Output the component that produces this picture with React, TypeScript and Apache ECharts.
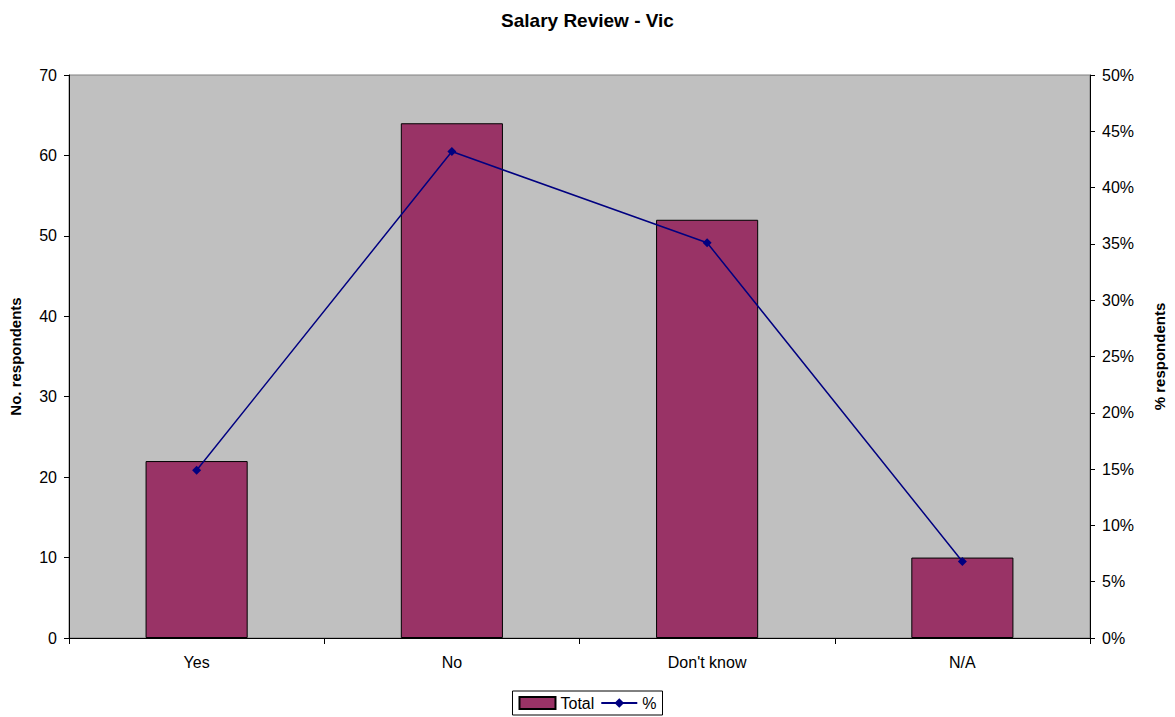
import React, { useEffect, useRef } from "react";
import * as echarts from "echarts";

const categories = ["Yes", "No", "Don't know", "N/A"];
const totals = [22, 64, 52, 10];
const percents = [14.9, 43.2, 35.1, 6.8];
const leftTicks = { min: 0, max: 70, interval: 10 };
const rightTicks = { min: 0, max: 50, interval: 5 };

const FONT = "'Liberation Sans', Arial, sans-serif";

export default function App() {
  const ref = useRef<HTMLDivElement>(null);
  useEffect(() => {
    if (!ref.current) return;
    const chart = echarts.init(ref.current, undefined, { renderer: "svg", width: 1175, height: 717 });
    const axisLine = { show: true, lineStyle: { color: "#000", width: 1 } };
    const nameStyle = { fontFamily: FONT, fontSize: 15, fontWeight: "bold", color: "#000" };
    const labelStyle = { fontFamily: FONT, fontSize: 16, color: "#000" };
    chart.setOption({
      animation: false,
      backgroundColor: "#fff",
      textStyle: { fontFamily: FONT },
      title: {
        text: "Salary Review - Vic",
        left: "center",
        top: 6,
        textStyle: { fontFamily: FONT, fontSize: 19, fontWeight: "bold", color: "#000" },
      },
      grid: {
        left: 66,
        top: 75,
        width: 1032,
        height: 563,
        show: true,
        backgroundColor: "#C0C0C0",
        borderColor: "#808080",
        borderWidth: 1,
      },
      legend: {
        bottom: 2,
        left: "center",
        borderColor: "#000",
        borderWidth: 1,
        padding: [4, 6, 4, 6],
        itemGap: 6,
        itemWidth: 36,
        itemHeight: 12,
        textStyle: { fontFamily: FONT, fontSize: 16, color: "#000" },
        data: [{ name: "Total", icon: "rect" }, { name: "%" }],
      },
      xAxis: {
        type: "category",
        data: categories,
        boundaryGap: true,
        axisLine,
        axisTick: { show: true, length: 6, lineStyle: { color: "#000" } },
        axisLabel: { ...labelStyle, margin: 16 },
        splitLine: { show: false },
      },
      yAxis: [
        {
          type: "value",
          min: leftTicks.min,
          max: leftTicks.max,
          interval: leftTicks.interval,
          name: "No. respondents",
          nameLocation: "middle",
          nameRotate: 90,
          nameGap: 46,
          nameTextStyle: nameStyle,
          axisLine,
          axisTick: { show: true, length: 5, lineStyle: { color: "#000" } },
          axisLabel: { ...labelStyle, margin: 12 },
          splitLine: { show: false },
        },
        {
          type: "value",
          min: rightTicks.min,
          max: rightTicks.max,
          interval: rightTicks.interval,
          position: "right",
          name: "% respondents",
          nameLocation: "middle",
          nameRotate: 90,
          nameGap: 62,
          nameTextStyle: nameStyle,
          axisLine,
          axisTick: { show: true, length: 5, lineStyle: { color: "#000" } },
          axisLabel: { ...labelStyle, margin: 12, formatter: "{value}%" },
          splitLine: { show: false },
        },
      ],
      series: [
        {
          name: "Total",
          type: "bar",
          data: totals,
          yAxisIndex: 0,
          barWidth: "40%",
          itemStyle: { color: "#993366", borderColor: "#000", borderWidth: 1 },
        },
        {
          name: "%",
          type: "line",
          data: percents,
          yAxisIndex: 1,
          symbol: "diamond",
          symbolSize: 9,
          lineStyle: { color: "#000080", width: 1.5 },
          itemStyle: { color: "#000080" },
        },
      ],
    });
    return () => chart.dispose();
  }, []);
  return <div ref={ref} style={{ width: 1175, height: 717, position: "absolute", left: 0, top: 0 }} />;
}
